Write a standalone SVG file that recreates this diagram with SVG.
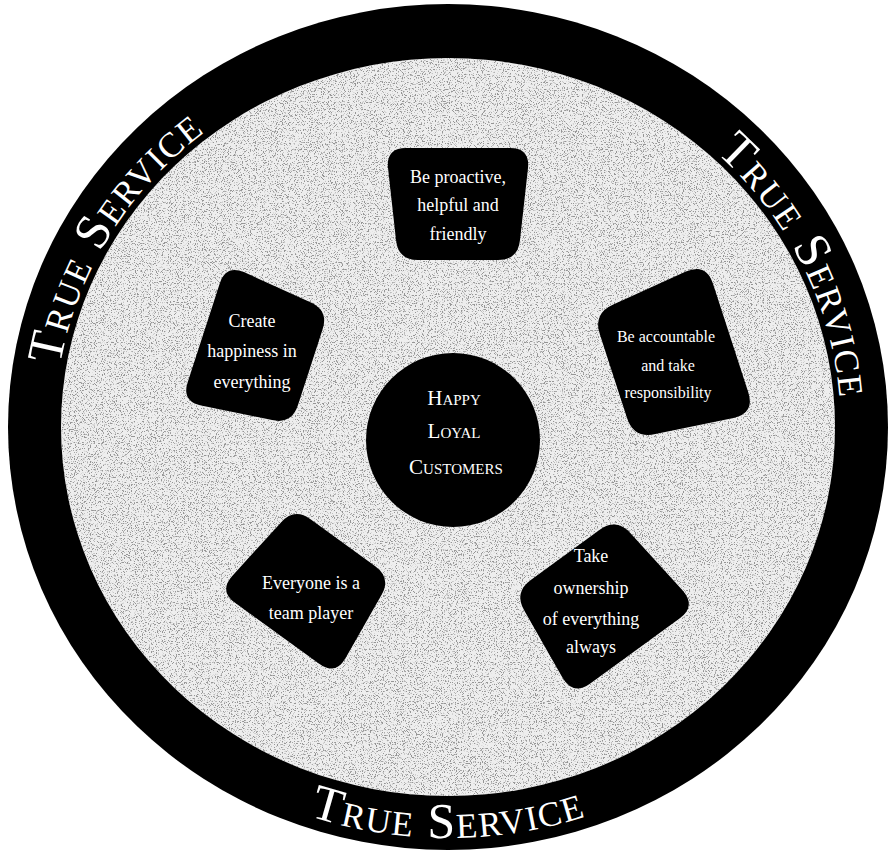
<svg xmlns="http://www.w3.org/2000/svg" width="889" height="852" viewBox="0 0 889 852">
  <style>
    .node { fill: #000; }
    .lbl { fill: #fff; font-family: "Liberation Serif", "DejaVu Serif", serif; font-size: 18px; text-anchor: middle; }
    .ring { fill: #fff; font-family: "Liberation Serif", "DejaVu Serif", serif; font-size: 50px; font-variant: small-caps; letter-spacing: 1.5px; }
    .ctr { fill: #fff; font-family: "Liberation Serif", "DejaVu Serif", serif; font-size: 21px; font-variant: small-caps; text-anchor: middle; }
  </style>
  <defs>
    <path id="trap" d="M-52,-56 L52,-56 Q72,-56 70,-36 L62,36 Q60,56 40,56 L-40,56 Q-60,56 -62,36 L-70,-36 Q-72,-56 -52,-56 Z"/>
    <path id="arcUL" d="M107.7,615 A392,375 0 0,1 448,52"/>
    <path id="arcUR" d="M482.3,53.4 A392,375 0 0,1 769.9,642"/>
    <path id="arcB" d="M75.6,632.5 A430,411 0 0,0 820.4,632.5"/>
    <clipPath id="inner"><ellipse cx="448" cy="427" rx="387" ry="369"/></clipPath>
    <filter id="speckle" x="0" y="0" width="1" height="1">
      <feTurbulence type="fractalNoise" baseFrequency="0.85" numOctaves="2" seed="7"/>
      <feColorMatrix type="matrix" values="0 0 0 0 0.3  0 0 0 0 0.3  0 0 0 0 0.3  8 0 0 0 -4.4"/>
    </filter>
  </defs>
  <rect width="889" height="852" fill="#fff"/>
  <g id="ring">
    <ellipse cx="448" cy="427" rx="440" ry="423" fill="#000"/>
    <ellipse cx="448" cy="427" rx="387" ry="369" fill="#eeeeee"/>
    <g clip-path="url(#inner)">
      <rect x="60" y="55" width="780" height="745" filter="url(#speckle)"/>
    </g>
    <text class="ring"><textPath href="#arcUL" startOffset="50%" text-anchor="middle">True Service</textPath></text>
    <text class="ring"><textPath href="#arcUR" startOffset="50%" text-anchor="middle">True Service</textPath></text>
    <text class="ring"><textPath href="#arcB" startOffset="50%" text-anchor="middle">True Service</textPath></text>
  </g>
  <g id="connectors"></g>
  <g id="node-top">
    <use href="#trap" class="node" transform="translate(458,204)"/>
    <text class="lbl" x="458" y="183">Be proactive,</text>
    <text class="lbl" x="458" y="211">helpful and</text>
    <text class="lbl" x="458" y="240">friendly</text>
  </g>
  <g id="node-left">
    <use href="#trap" class="node" transform="translate(257,350) rotate(-72)"/>
    <text class="lbl" x="252" y="327">Create</text>
    <text class="lbl" x="252" y="357">happiness in</text>
    <text class="lbl" x="252" y="388">everything</text>
  </g>
  <g id="node-right">
    <use href="#trap" class="node" transform="translate(672,357) rotate(72) scale(1.1)"/>
    <text class="lbl" x="666" y="342" style="font-size:16px">Be accountable</text>
    <text class="lbl" x="668" y="371" style="font-size:16px">and take</text>
    <text class="lbl" x="668" y="398" style="font-size:16px">responsibility</text>
  </g>
  <g id="node-bottom-right">
    <use href="#trap" class="node" transform="translate(600,603) rotate(144) scale(1.06)"/>
    <text class="lbl" x="591" y="562">Take</text>
    <text class="lbl" x="591" y="594">ownership</text>
    <text class="lbl" x="591" y="625">of everything</text>
    <text class="lbl" x="591" y="653">always</text>
  </g>
  <g id="node-bottom-left">
    <use href="#trap" class="node" transform="translate(310,588) rotate(-144)"/>
    <text class="lbl" x="311" y="589">Everyone is a</text>
    <text class="lbl" x="311" y="619">team player</text>
  </g>
  <g id="node-center">
    <circle cx="453" cy="440" r="87" class="node"/>
    <text class="ctr" x="454" y="405">Happy</text>
    <text class="ctr" x="454" y="438">Loyal</text>
    <text class="ctr" x="456" y="474">Customers</text>
  </g>
</svg>
